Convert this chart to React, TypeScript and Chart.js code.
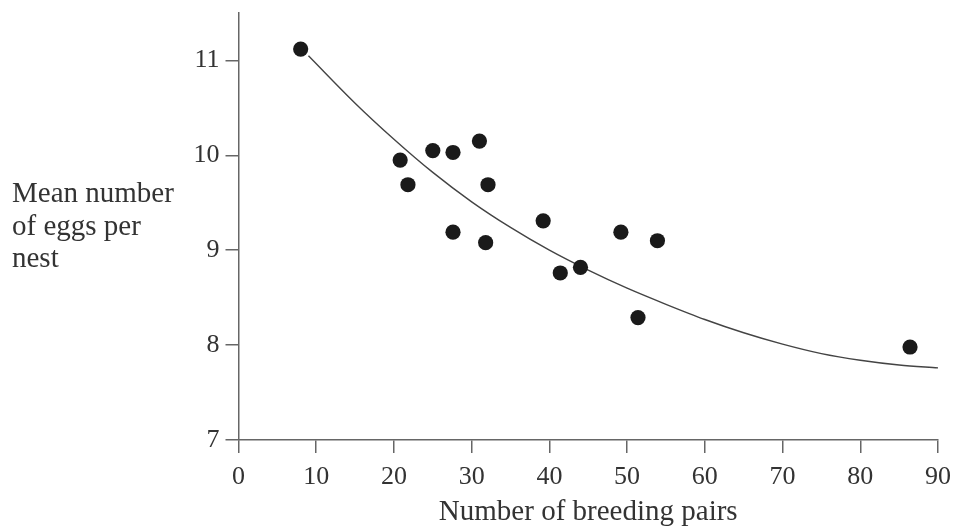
import React, { useEffect, useRef } from "react";
import { Chart, registerables } from "chart.js";

Chart.register(...registerables);

// Observed data points: number of breeding pairs vs mean number of eggs per nest
const pairs = [8.0, 20.8, 21.8, 25.0, 27.6, 27.6, 31.0, 32.1, 31.8, 39.2, 41.4, 44.0, 49.2, 51.4, 53.9, 86.4];
const eggs = [11.12, 9.95, 9.69, 10.05, 10.03, 9.19, 10.15, 9.69, 9.08, 9.31, 8.76, 8.82, 9.19, 8.29, 9.1, 7.98];

// Fitted curve
const curveX = [9, 15, 20, 25, 30, 35, 40, 45, 50, 55, 60, 65, 70, 75, 80, 85, 90];
const curveY = [11.05, 10.55, 10.17, 9.82, 9.51, 9.24, 9.0, 8.79, 8.6, 8.43, 8.27, 8.13, 8.01, 7.91, 7.84, 7.79, 7.76];

const xTicks = [0, 10, 20, 30, 40, 50, 60, 70, 80, 90];
const yTicks = [7, 8, 9, 10, 11];

const xTitle = "Number of breeding pairs";
const yTitleLines = ["Mean number", "of eggs per", "nest"];

const FONT = "'Liberation Serif', 'Times New Roman', serif";
const AXIS = "#666666";
const TEXT = "#333333";

export default function App() {
  const ref = useRef<HTMLCanvasElement | null>(null);

  useEffect(() => {
    if (!ref.current) return;
    const yTitlePlugin = {
      id: "yTitle",
      afterDraw(chart: any) {
        const ctx = chart.ctx;
        ctx.save();
        ctx.font = `29px ${FONT}`;
        ctx.fillStyle = TEXT;
        ctx.textAlign = "left";
        ctx.textBaseline = "alphabetic";
        yTitleLines.forEach((line, i) => {
          ctx.fillText(line, 12, 202 + i * 32.5);
        });
        ctx.restore();
      },
    };

    const chart = new Chart(ref.current, {
      type: "scatter",
      data: {
        datasets: [
          {
            type: "scatter",
            data: pairs.map((x, i) => ({ x, y: eggs[i] })),
            pointRadius: 7.6,
            pointHoverRadius: 7.6,
            backgroundColor: "#1a1a1a",
            borderWidth: 0,
            order: 1,
          },
          {
            type: "line",
            data: curveX.map((x, i) => ({ x, y: curveY[i] })),
            showLine: true,
            pointRadius: 0,
            borderColor: "#444444",
            borderWidth: 1.4,
            cubicInterpolationMode: "monotone",
            fill: false,
            order: 2,
          } as any,
        ],
      },
      options: {
        responsive: false,
        animation: false,
        layout: { padding: { top: 13, right: 17, left: 0, bottom: 0 } },
        plugins: { legend: { display: false }, tooltip: { enabled: false } },
        scales: {
          x: {
            type: "linear",
            min: 0,
            max: 90,
            afterBuildTicks: (s: any) => {
              s.ticks = xTicks.map((v) => ({ value: v }));
            },
            afterFit: (s: any) => {
              s.height = 88;
              s.paddingLeft = 0;
              s.paddingRight = 0;
            },
            ticks: {
              font: { family: FONT, size: 26, lineHeight: 1.2 },
              color: TEXT,
              padding: 9,
              maxRotation: 0,
            },
            grid: {
              drawOnChartArea: false,
              drawTicks: true,
              tickLength: 13,
              color: AXIS,
              lineWidth: 1.5,
            },
            border: { color: AXIS, width: 1.5 },
            title: {
              display: true,
              text: xTitle,
              font: { family: FONT, size: 29, lineHeight: 1.2 },
              color: TEXT,
              padding: { top: 0, bottom: -2 },
            },
          },
          y: {
            type: "linear",
            min: 7,
            max: 11.5,
            afterBuildTicks: (s: any) => {
              s.ticks = yTicks.map((v) => ({ value: v }));
            },
            afterFit: (s: any) => {
              s.width = 238.5;
              s.paddingTop = 0;
              s.paddingBottom = 0;
            },
            ticks: {
              font: { family: FONT, size: 26, lineHeight: 1.2 },
              color: TEXT,
              padding: 6,
            },
            grid: {
              drawOnChartArea: false,
              drawTicks: true,
              tickLength: 13,
              color: AXIS,
              lineWidth: 1.5,
            },
            border: { color: AXIS, width: 1.5 },
          },
        },
      },
      plugins: [yTitlePlugin],
    } as any);

    return () => chart.destroy();
  }, []);

  return (
    <canvas
      ref={ref}
      width={955}
      height={528}
      style={{ position: "absolute", left: 0, top: 0, width: 955, height: 528 }}
    />
  );
}
